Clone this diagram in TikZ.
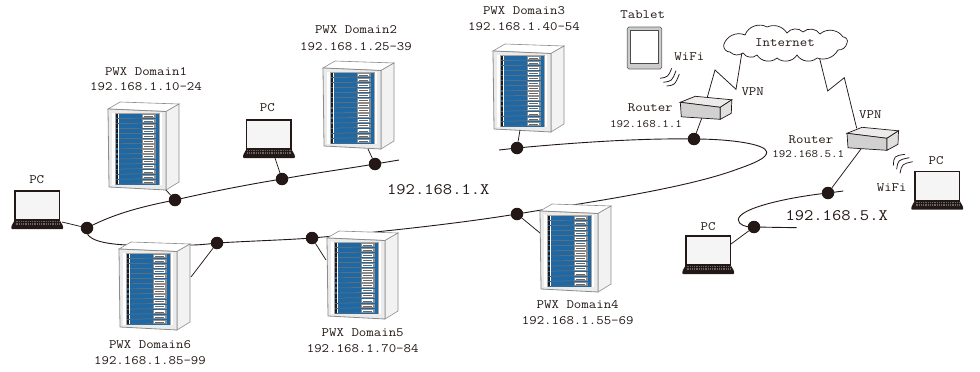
\documentclass[tikz,border=0pt]{standalone}
\usepackage{fontspec}
\setmonofont[FakeStretch=1.13]{Latin Modern Mono}
\definecolor{ink}{HTML}{231815}
\definecolor{rackblue}{HTML}{1F68A3}
\definecolor{edge}{HTML}{8C8C8C}
\tikzset{
  net/.style={draw=ink,line width=.9pt},
  wire/.style={draw=ink,line width=.75pt},
  dotnode/.style={circle,fill=ink,inner sep=0pt,minimum size=12.5pt},
  lbl/.style={font=\ttfamily\fontsize{12.8}{12.8}\selectfont,text=ink,inner sep=0pt},
  lblsmall/.style={font=\ttfamily\fontsize{11.2}{11.2}\selectfont,text=ink,inner sep=0pt},
  lblbig/.style={font=\ttfamily\fontsize{16}{16}\selectfont,text=ink,inner sep=0pt},
}
\newcommand{\drawrack}[2]{%
 \begin{scope}[shift={(#1,#2)}]
  \filldraw[draw=edge,line width=.6pt,fill=white] (0,0) -- (12,-7) -- (71,-5) -- (58,2.5) -- cycle;
  \filldraw[draw=edge,line width=.6pt,fill=black!5] (58,2.5) -- (71,-5) -- (71,73) -- (58,81) -- cycle;
  \filldraw[draw=edge,line width=.8pt,fill=black!8] (0,0) -- (58,2.5) -- (58,81) -- (1,78) -- cycle;
  \fill[white] (4,4) rectangle (54,76);
  \fill[black!35] (6.5,4) rectangle (51.5,76);
  \fill[rackblue] (7.5,4.5) rectangle (50.5,75.5);
  \foreach \i in {0,...,13}{
    \pgfmathsetmacro{\yy}{4.6+5.06*\i}
    \fill[ink] (7.5,\yy+.5) rectangle (10,\yy+4.3);
    \fill[white] (10,\yy+.2) rectangle (11,\yy+4.8);
    \draw[black!55,line width=.5pt] (11,\yy+4.9) -- (34,\yy+4.5);
    \fill[black!45] (33.5,\yy+.4) rectangle (47.5,\yy+4.6);
    \fill[white] (35,\yy+1.2) rectangle (46,\yy+3.8);
    \draw[black!60,line width=.5pt] (36,\yy+2.5) -- (45,\yy+2.5);
    \fill[white] (4.3,\yy+.6) rectangle (6.3,\yy+1.8);
    \fill[white] (4.3,\yy+3.1) rectangle (6.3,\yy+4.3);
    \fill[white] (51.7,\yy+.6) rectangle (53.7,\yy+1.8);
    \fill[white] (51.7,\yy+3.1) rectangle (53.7,\yy+4.3);
  }
 \end{scope}}
\newcommand{\drawlaptop}[2]{%
 \begin{scope}[shift={(#1,#2)}]
  \filldraw[draw=ink,line width=1.5pt,fill=black!4] (0,0) rectangle (44.3,29);
  \fill[ink,rounded corners=.8pt] (-3.5,35) -- (0,28.5) -- (44.3,28.5) -- (48,35) -- (48.2,38) -- (-3.7,38) -- cycle;
  \foreach \k in {0,...,2}{\draw[black!60,line width=.35pt,dash pattern=on 1pt off .8pt] (.5,30.5+\k*1.5) -- (43.8,30.5+\k*1.5);}
 \end{scope}}
\newcommand{\drawrouter}[2]{%
 \begin{scope}[shift={(#1,#2)}]
  \filldraw[draw=ink,line width=.7pt,fill=black!8] (0,0) -- (15,-6) -- (51.5,-2.5) -- (40,5) -- cycle;
  \filldraw[draw=ink,line width=.7pt,fill=black!18] (0,0) -- (40,5) -- (40,17) -- (1,14.5) -- cycle;
  \filldraw[draw=ink,line width=.7pt,fill=black!12] (40,5) -- (51.5,-2.5) -- (51,11) -- (40,17) -- cycle;
 \end{scope}}
\begin{document}
\begin{tikzpicture}[x=1pt,y=-1pt]
\useasboundingbox (0,0) rectangle (980,372);
% named anchor points
\coordinate (a1) at (166,190);
\coordinate (a2) at (368,149);
\coordinate (a3) at (520,130);
\coordinate (a4) at (540,233);
\coordinate (a5) at (326,260);
\coordinate (a6) at (191,277);
\coordinate (pc1) at (62,222);
\coordinate (pc2) at (275,158);
\coordinate (pc3) at (731,244);
\coordinate (end1) at (399,160);
\coordinate (end2) at (499,150);
\coordinate (end3) at (843.3,191);
\coordinate (end4) at (796.7,227.7);
\coordinate (r1b) at (701.7,118.3);
\coordinate (r2b) at (861,149);
\coordinate (r1t) at (707.3,97.3);
\coordinate (r2t) at (856.7,128.3);
\coordinate (c1) at (741.7,54);
\coordinate (c2) at (819,56);
% dots
\node[dotnode] (d1) at (87,228) {};
\node[dotnode] (d2) at (175,200) {};
\node[dotnode] (d3) at (282,179) {};
\node[dotnode] (d4) at (375,164) {};
\node[dotnode] (d5) at (517,148) {};
\node[dotnode] (d6) at (694,139) {};
\node[dotnode] (d7) at (517,214) {};
\node[dotnode] (d8) at (312,238) {};
\node[dotnode] (d9) at (217,243) {};
\node[dotnode] (d10) at (828,193) {};
\node[dotnode] (d11) at (754,227) {};
% backbone
\draw[net] (d1.center) .. controls (115,213) and (145,206) .. (d2.center)
  .. controls (210,192) and (245,185) .. (d3.center)
  .. controls (315,173) and (345,169) .. (d4.center) -- (end1);
\draw[net] (d1.center) .. controls (83,240) and (105,244) .. (127,245) -- (191,245)
  .. controls (200,245) and (208,244) .. (d9.center)
  .. controls (250,241) and (285,240) .. (d8.center)
  .. controls (380,232) and (455,224) .. (d7.center)
  .. controls (570,205) and (680,190) .. (735,170)
  .. controls (755,163) and (767,158) .. (766.7,152)
  .. controls (766,144) and (730,139) .. (d6.center)
  .. controls (640,138) and (570,143) .. (d5.center) -- (end2);
\draw[net] (end3) -- (d10.center) .. controls (790,197) and (738,208) .. (738.3,220)
  .. controls (739,225) and (745,227) .. (d11.center) -- (end4);
% racks
\drawrack{108}{109}
\drawrack{323}{68}
\drawrack{493}{51}
\drawrack{540}{211}
\drawrack{327}{238}
\drawrack{119}{249}
% stubs
\draw[wire] (a1) -- (d2);
\draw[wire] (a2) -- (d4);
\draw[wire] (a3) -- (d5);
\draw[wire] (a4) -- (d7);
\draw[wire] (a5) -- (d8);
\draw[wire] (a6) -- (d9);
\draw[wire] (pc1) -- (d1);
\draw[wire] (pc2) -- (d3);
\draw[wire] (pc3) -- (d11);
\draw[wire] (r1b) -- (d6);
\draw[wire] (r2b) -- (d10);
% VPN zigzags
\draw[wire] (r1t) -- (715,70) -- (736,89.3) -- (c1);
\draw[wire] (r2t) -- (844.3,77.7) -- (827.7,91) -- (c2);
% routers, laptops
\drawrouter{680.3}{102.3}
\drawrouter{847}{133.3}
\drawlaptop{246.7}{120}
\drawlaptop{15}{191}
\drawlaptop{686}{236}
\drawlaptop{915}{171.7}
% tablet
\filldraw[draw=black!60,line width=.7pt,fill=black!20,rounded corners=1.5pt] (627.3,27) rectangle (661.7,69);
\filldraw[draw=black!70,line width=.6pt,fill=white] (630.7,30.7) rectangle (658.3,63.3);
% wifi arcs
\draw[wire] (660,78.3) .. controls (668,77) .. (671.7,68.3);
\draw[wire] (663.3,82.3) .. controls (672,81) .. (676,70.7);
\draw[wire] (666.7,86) .. controls (675,85) .. (679.3,74);
\draw[wire] (893.3,165.7) .. controls (894,156) .. (905,154.3);
\draw[wire] (896.7,169.3) .. controls (898,160) .. (909.3,157.7);
\draw[wire] (900,173.3) .. controls (902,164) .. (912.7,161.7);
% cloud
\filldraw[draw=ink,line width=.7pt,fill=white] (723.7,45) to[bend left=50] (745,35) to[bend left=50] (767,27)
 to[bend left=40] (787,33) to[bend left=50] (803,32) to[bend left=50] (820,34) to[bend left=50] (843,37)
 to[bend left=70] (847,43) to[bend left=40] (838,50) to[bend left=40] (817,58) to[bend left=50] (797,55)
 to[bend left=50] (777,58) to[bend left=50] (757,55) to[bend left=50] (743,53) to[bend left=40] (730,52)
 to[bend left=50] cycle;
% labels
\node[lbl] (l1a) at (146,72) {PWX Domain1};
\node[lbl] (l1b) at (146,87) {192.168.1.10-24};
\node[lbl] (l2a) at (356,30) {PWX Domain2};
\node[lbl] (l2b) at (356,46.7) {192.168.1.25-39};
\node[lbl] (l3a) at (524,11) {PWX Domain3};
\node[lbl] (l3b) at (524,26.7) {192.168.1.40-54};
\node[lbl] (l4a) at (577.7,305) {PWX Domain4};
\node[lbl] (l4b) at (577.7,321) {192.168.1.55-69};
\node[lbl] (l5a) at (362.7,333) {PWX Domain5};
\node[lbl] (l5b) at (362.7,348.3) {192.168.1.70-84};
\node[lbl] (l6a) at (150,345) {PWX Domain6};
\node[lbl] (l6b) at (150,361) {192.168.1.85-99};
\node[lbl] (p1) at (36.7,180) {PC};
\node[lbl] (p2) at (267.3,107.7) {PC};
\node[lbl] (p3) at (708,226.3) {PC};
\node[lbl] (p4) at (936,160.3) {PC};
\node[lbl] (tab) at (642.7,14.3) {Tablet};
\node[lbl] (w1) at (689.3,56.7) {WiFi};
\node[lbl] (w2) at (891.7,187.3) {WiFi};
\node[lbl] (v1) at (752.7,91.7) {VPN};
\node[lbl] (v2) at (870.3,114.7) {VPN};
\node[lbl] (rt1) at (650.3,107.3) {Router};
\node[lbl] (rt2) at (811,139.7) {Router};
\node[lblsmall] (ip1) at (646,123.7) {192.168.1.1};
\node[lblsmall] (ip2) at (808.3,154.3) {192.168.5.1};
\node[lbl] (inet) at (785,42.3) {Internet};
\node[lblbig] (n1) at (438.3,189.3) {192.168.1.X};
\node[lblbig] (n2) at (836.7,215.3) {192.168.5.X};
\end{tikzpicture}
\end{document}
